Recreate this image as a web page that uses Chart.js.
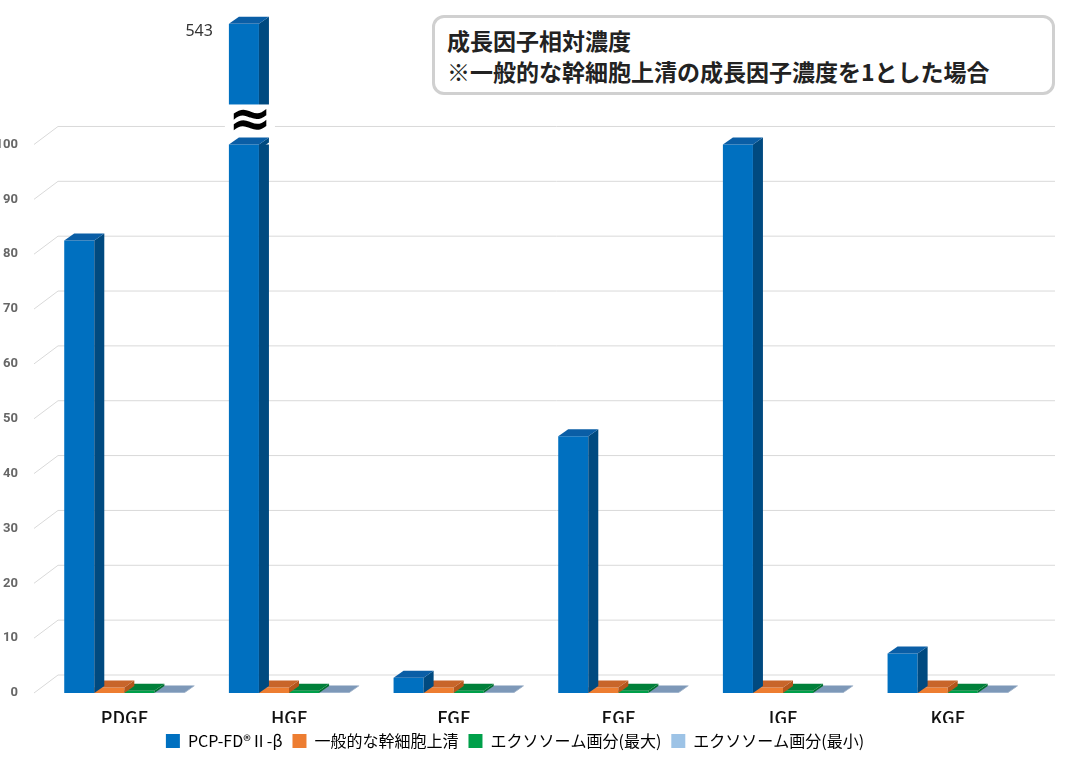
<!DOCTYPE html>
<html><head><meta charset="utf-8">
<script src="https://cdn.jsdelivr.net/npm/chart.js@4"></script>
<style>
body{margin:0;background:#fff;font-family:"Noto Sans CJK JP",sans-serif}
#wrap{position:relative;width:1065px;height:759px}
#title{position:absolute;left:432px;top:15px;width:623px;height:80px;border:3px solid #d0d0d0;border-radius:12px;box-sizing:border-box;padding:7px 0 0 12px;font-weight:bold;font-size:23px;line-height:31px;color:#222;background:#fff}
</style></head><body>
<div id="wrap"><canvas id="c" width="1065" height="759"></canvas>
<div id="title">成長因子相対濃度<br>※一般的な幹細胞上清の成長因子濃度を1とした場合</div></div>
<script>
const categories = ['PDGF', 'HGF', 'FGF', 'EGF', 'IGF', 'KGF'];
const seriesNames = ['PCP-FD®Ⅱ-β', '一般的な幹細胞上清', 'エクソソーム画分(最大)', 'エクソソーム画分(最小)'];
const pcp = [82.5, 543, 2.8, 46.8, 100, 7.2];
const general = [1, 1, 1, 1, 1, 1];
const exoMax = [0.4, 0.4, 0.4, 0.4, 0.4, 0.4];
const exoMin = [0.1, 0.1, 0.1, 0.1, 0.1, 0.1];
const yTicks = [0, 10, 20, 30, 40, 50, 60, 70, 80, 90, 100];

const CAP = 122;   // axis break: values above 100 are drawn up to the top
const shown = v => v > 100 ? CAP : v;

const fronts = ['#0070c0', '#ed7d31', '#00a04a', '#8eaacb'];
const sides = ['#004a80', '#b4561c', '#006e30', '#6e88a8'];
const tops = ['#0a5ea6', '#c8652a', '#00803a', '#7d98b8'];
const legendCols = ['#0070c0', '#ed7d31', '#00a04a', '#9dc3e6'];
const DX = 10, DY = -7;

function box3d(ctx, b, i) {
  const l = b.x - b.width / 2, r = b.x + b.width / 2;
  ctx.fillStyle = sides[i];
  ctx.beginPath();
  ctx.moveTo(r, b.y); ctx.lineTo(r + DX, b.y + DY); ctx.lineTo(r + DX, b.base + DY); ctx.lineTo(r, b.base);
  ctx.fill();
  ctx.fillStyle = tops[i];
  ctx.beginPath();
  ctx.moveTo(l, b.y); ctx.lineTo(l + DX, b.y + DY); ctx.lineTo(r + DX, b.y + DY); ctx.lineTo(r, b.y);
  ctx.fill();
}

const threeD = {
  id: 'threeD',
  beforeDatasetsDraw(chart) {
    const ctx = chart.ctx, y = chart.scales.y, a = chart.chartArea;
    ctx.save();
    ctx.strokeStyle = '#d9d9d9'; ctx.lineWidth = 1;
    yTicks.forEach(t => {
      const py = y.getPixelForValue(t);
      ctx.beginPath();
      ctx.moveTo(a.left - 8, py); ctx.lineTo(a.left + 16, py - 18); ctx.lineTo(1055, py - 18);
      ctx.stroke();
    });
    ctx.restore();
  },
  afterDatasetDraw(chart, args) {
    const ctx = chart.ctx, i = args.index;
    const meta = chart.getDatasetMeta(i);
    ctx.save();
    meta.data.forEach(b => box3d(ctx, b, i));
    if (i === 0) {
      const y = chart.scales.y;
      pcp.forEach((v, k) => {
        if (v <= 100) return;
        const b = meta.data[k];
        const l = b.x - b.width / 2 - 4, w = b.width + DX + 10;
        const p100 = y.getPixelForValue(100);
        ctx.fillStyle = '#fff';
        ctx.fillRect(l, p100 - 40, w, 40);
        box3d(ctx, { x: b.x, width: b.width, y: p100, base: p100 + 5 }, 0);
        ctx.fillStyle = '#000';
        ctx.font = 'bold 52px "DejaVu Sans"';
        ctx.textAlign = 'center'; ctx.textBaseline = 'middle';
        ctx.fillText('≈', b.x + 6, p100 - 22);
        ctx.font = '16px "Noto Sans"';
        ctx.fillStyle = '#333'; ctx.textAlign = 'right';
        ctx.fillText(String(v), b.x - b.width / 2 - 16, b.y + 8);
      });
    }
    ctx.restore();
  }
};

const data = [pcp, general, exoMax, exoMin];
new Chart(document.getElementById('c'), {
  type: 'bar',
  data: {
    labels: categories,
    datasets: seriesNames.map((n, i) => ({
      label: n,
      data: data[i].map(shown),
      backgroundColor: fronts[i],
      borderWidth: 0
    }))
  },
  options: {
    responsive: false,
    animation: false,
    layout: { padding: { top: 2, right: 35, bottom: 0, left: 0 } },
    datasets: { bar: { categoryPercentage: 0.73, barPercentage: 1 } },
    plugins: {
      tooltip: { enabled: false },
      legend: {
        position: 'bottom',
        labels: {
          boxWidth: 14, boxHeight: 14, padding: 10, color: '#111',
          font: { family: '"Noto Sans CJK JP"', size: 16 },
          generateLabels: () => seriesNames.map((n, i) => ({
            text: n, fillStyle: legendCols[i], strokeStyle: legendCols[i], lineWidth: 0, datasetIndex: i
          }))
        }
      }
    },
    scales: {
      x: {
        grid: { display: false }, border: { display: false },
        ticks: { color: '#111', padding: 6, font: { family: '"Noto Sans CJK JP"', size: 18, weight: '500' } },
        afterFit: s => { s.height = 30; }
      },
      y: {
        min: 0, max: CAP,
        grid: { display: false }, border: { display: false },
        afterBuildTicks: s => { s.ticks = yTicks.map(v => ({ value: v })); },
        ticks: { color: '#666', padding: 16, font: { family: '"Liberation Sans Narrow", "Roboto"', size: 13, weight: 'bold' } },
        afterFit: s => { s.width = 42; }
      }
    }
  },
  plugins: [threeD]
});
</script></body></html>
